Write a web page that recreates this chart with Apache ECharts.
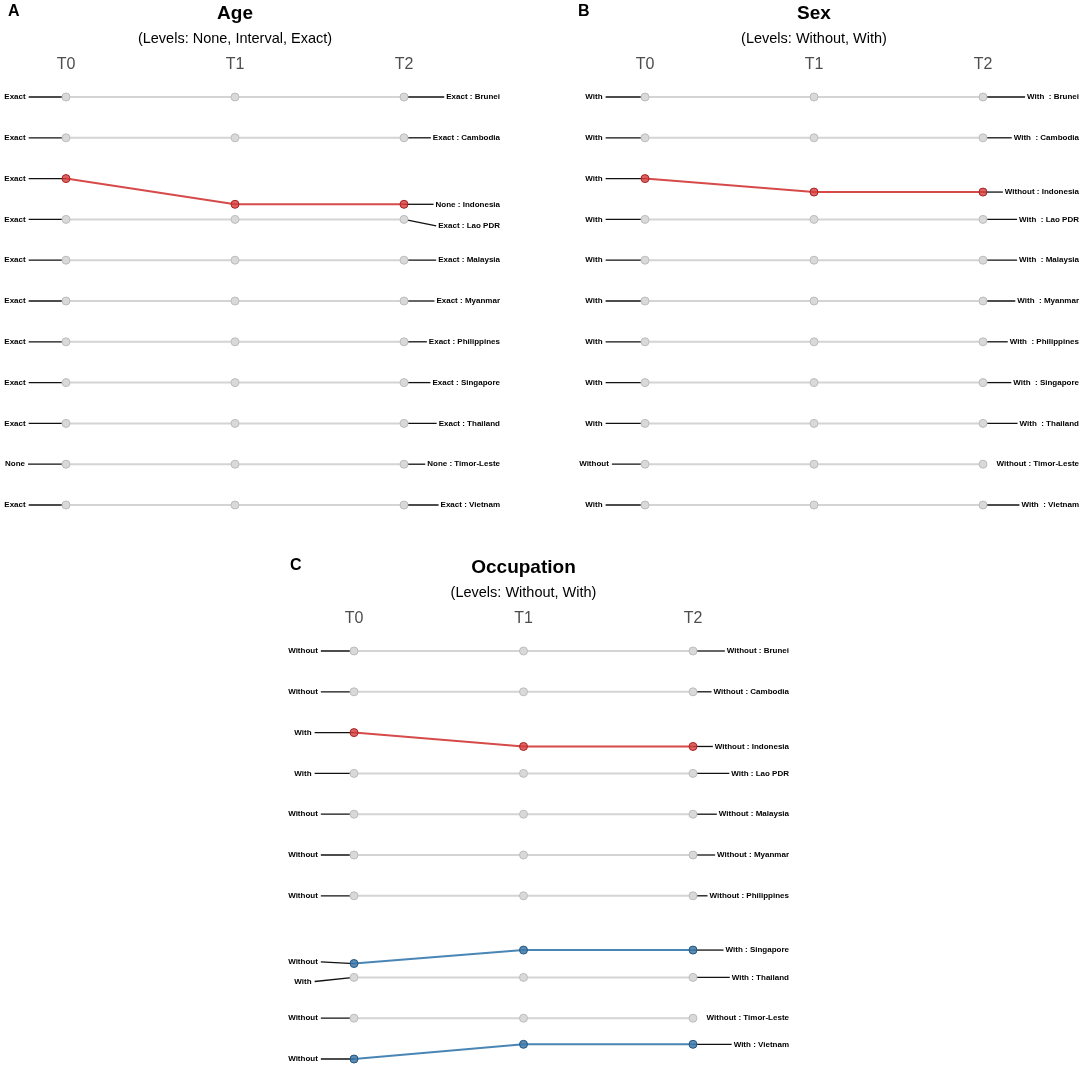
<!DOCTYPE html>
<html><head><meta charset="utf-8">
<script src="https://cdn.jsdelivr.net/npm/echarts@6/dist/echarts.min.js"></script>
<style>html,body{margin:0;padding:0;background:#fff}#c{width:1084px;height:1068px}</style>
</head><body><div id="c"></div>
<script>
// ---------- data ----------
const timeLabels = ['T0', 'T1', 'T2'];
const countries = ['Brunei', 'Cambodia', 'Indonesia', 'Lao PDR', 'Malaysia', 'Myanmar', 'Philippines', 'Singapore', 'Thailand', 'Timor-Leste', 'Vietnam'];

// Age
const ageT0 = ['Exact', 'Exact', 'Exact', 'Exact', 'Exact', 'Exact', 'Exact', 'Exact', 'Exact', 'None', 'Exact'];
const ageT2 = ['Exact', 'Exact', 'None', 'Exact', 'Exact', 'Exact', 'Exact', 'Exact', 'Exact', 'None', 'Exact'];
const agePos = [[0, 0, 0], [1, 1, 1], [2, 2.63, 2.63], [3, 3, 3], [4, 4, 4], [5, 5, 5], [6, 6, 6], [7, 7, 7], [8, 8, 8], [9, 9, 9], [10, 10, 10]];
const ageLeftLabelPos = [0, 1, 2, 3, 4, 5, 6, 7, 8, 9, 10];
const ageRightLabelPos = [0, 1, 2.63, 3.16, 4, 5, 6, 7, 8, 9, 10];
const ageChange = ['same', 'same', 'down', 'same', 'same', 'same', 'same', 'same', 'same', 'same', 'same'];

// Sex
const sexT0 = ['With', 'With', 'With', 'With', 'With', 'With', 'With', 'With', 'With', 'Without', 'With'];
const sexT2 = ['With', 'With', 'Without', 'With', 'With', 'With', 'With', 'With', 'With', 'Without', 'With'];
const sexPos = [[0, 0, 0], [1, 1, 1], [2, 2.33, 2.33], [3, 3, 3], [4, 4, 4], [5, 5, 5], [6, 6, 6], [7, 7, 7], [8, 8, 8], [9, 9, 9], [10, 10, 10]];
const sexLeftLabelPos = [0, 1, 2, 3, 4, 5, 6, 7, 8, 9, 10];
const sexRightLabelPos = [0, 1, 2.33, 3, 4, 5, 6, 7, 8, 9, 10];
const sexChange = ['same', 'same', 'down', 'same', 'same', 'same', 'same', 'same', 'same', 'same', 'same'];

// Occupation
const occT0 = ['Without', 'Without', 'With', 'With', 'Without', 'Without', 'Without', 'Without', 'With', 'Without', 'Without'];
const occT2 = ['Without', 'Without', 'Without', 'With', 'Without', 'Without', 'Without', 'With', 'With', 'Without', 'With'];
const occPos = [[0, 0, 0], [1, 1, 1], [2, 2.34, 2.34], [3, 3, 3], [4, 4, 4], [5, 5, 5], [6, 6, 6], [7.66, 7.33, 7.33], [8, 8, 8], [9, 9, 9], [10, 9.64, 9.64]];
const occLeftLabelPos = [0, 1, 2, 3, 4, 5, 6, 7.62, 8.1, 9, 10];
const occRightLabelPos = [0, 1, 2.34, 3, 4, 5, 6, 7.33, 8, 9, 9.64];
const occChange = ['same', 'same', 'down', 'same', 'same', 'same', 'same', 'up', 'same', 'same', 'up'];

const panelTitles = ['Age', 'Sex', 'Occupation'];
const panelSubtitles = ['(Levels: None, Interval, Exact)', '(Levels: Without, With)', '(Levels: Without, With)'];
const panelLetters = ['A', 'B', 'C'];

// ---------- layout / style ----------
const FONT = '"Liberation Sans", Arial, sans-serif';
const panels = [
  { left: 66, top: 97, width: 338, height: 408, letterX: 8, letterY: 13, titleY: 14, subY: 39,
    t0: ageT0, t2: ageT2, pos: agePos, lpos: ageLeftLabelPos, rpos: ageRightLabelPos, change: ageChange, pad: 0 },
  { left: 645, top: 97, width: 338, height: 408, letterX: 578, letterY: 13, titleY: 14, subY: 39,
    t0: sexT0, t2: sexT2, pos: sexPos, lpos: sexLeftLabelPos, rpos: sexRightLabelPos, change: sexChange, pad: 5 },
  { left: 354, top: 651, width: 339, height: 408, letterX: 290, letterY: 567, titleY: 568, subY: 593,
    t0: occT0, t2: occT2, pos: occPos, lpos: occLeftLabelPos, rpos: occRightLabelPos, change: occChange, pad: 0 }
];
const styles = {
  same: { line: '#d4d4d4', fill: '#d9d9d9', border: '#bdbdbd', z: 2 },
  down: { line: '#d64a4a', fill: 'rgba(214,60,60,0.8)', border: '#a82222', z: 3 },
  up:   { line: '#4a86b5', fill: 'rgba(60,120,170,0.85)', border: '#24557d', z: 3 }
};

const ctx = document.createElement('canvas').getContext('2d');
ctx.font = 'bold 8px ' + FONT;
const measure = t => ctx.measureText(t).width;

const grids = [], xAxes = [], yAxes = [], series = [], graphics = [];

panels.forEach((p, pi) => {
  grids.push({ left: p.left, top: p.top, width: p.width, height: p.height });
  xAxes.push({
    type: 'category', gridIndex: pi, data: timeLabels, boundaryGap: false, position: 'top',
    axisLine: { show: false }, axisTick: { show: false }, splitLine: { show: false },
    axisLabel: { margin: 32, verticalAlign: 'middle', fontSize: 16, color: '#4d4d4d', fontFamily: FONT }
  });
  yAxes.push({ type: 'value', gridIndex: pi, min: 0, max: 10, inverse: true, show: false, splitLine: { show: false } });

  const cx = p.left + p.width / 2;
  graphics.push(
    { type: 'text', left: p.letterX, top: p.letterY - 9, style: { text: panelLetters[pi], font: 'bold 16px ' + FONT, fill: '#000' } },
    { type: 'text', x: cx, y: p.titleY, style: { text: panelTitles[pi], font: 'bold 19px ' + FONT, fill: '#000', align: 'center', verticalAlign: 'middle' } },
    { type: 'text', x: cx, y: p.subY, style: { text: panelSubtitles[pi], font: '14.5px ' + FONT, fill: '#000', align: 'center', verticalAlign: 'middle' } }
  );

  // leader lines and labels
  series.push({
    type: 'custom', xAxisIndex: pi, yAxisIndex: pi, clip: false, silent: true, z: 1, animation: false,
    data: countries.map((c, i) => [0, p.pos[i][0]]),
    renderItem: (params, api) => {
      const i = params.dataIndex;
      const a0 = api.coord([0, p.pos[i][0]]);
      const a2 = api.coord([2, p.pos[i][2]]);
      const yl = api.coord([0, p.lpos[i]])[1];
      const yr = api.coord([2, p.rpos[i]])[1];
      const lt = p.t0[i];
      const rt = (p.pad ? p.t2[i].padEnd(p.pad) : p.t2[i]) + ' : ' + countries[i];
      const lw = measure(lt), rw = measure(rt);
      const lcx = a0[0] - 51;
      const rEdge = a2[0] + 96;
      const children = [
        { type: 'text', style: { text: lt, x: lcx, y: yl, font: 'bold 8px ' + FONT, fill: '#000', align: 'center', verticalAlign: 'middle' } },
        { type: 'text', style: { text: rt, x: rEdge, y: yr, font: 'bold 8px ' + FONT, fill: '#000', align: 'right', verticalAlign: 'middle' } }
      ];
      const lx1 = lcx + lw / 2 + 3;
      if (Math.hypot(a0[0] - lx1, a0[1] - yl) > 12) {
        children.push({ type: 'line', shape: { x1: lx1, y1: yl, x2: a0[0], y2: a0[1] }, style: { stroke: '#111', lineWidth: 1.3 } });
      }
      const rx1 = rEdge - rw - 2;
      if (Math.hypot(rx1 - a2[0], yr - a2[1]) > 13) {
        children.push({ type: 'line', shape: { x1: a2[0], y1: a2[1], x2: rx1, y2: yr }, style: { stroke: '#111', lineWidth: 1.3 } });
      }
      return { type: 'group', children };
    }
  });

  countries.forEach((c, i) => {
    const s = styles[p.change[i]];
    series.push({
      type: 'line', name: c, xAxisIndex: pi, yAxisIndex: pi, data: p.pos[i], clip: false, z: s.z,
      symbol: 'circle', symbolSize: 8, showSymbol: true, silent: true, animation: false,
      lineStyle: { color: s.line, width: 2 },
      itemStyle: { color: s.fill, borderColor: s.border, borderWidth: 1 },
      emphasis: { disabled: true }
    });
  });
});

const chart = echarts.init(document.getElementById('c'), null, { renderer: 'canvas' });
chart.setOption({
  backgroundColor: '#fff', animation: false,
  grid: grids, xAxis: xAxes, yAxis: yAxes, series, graphic: graphics, tooltip: { show: false }
});
</script></body></html>
